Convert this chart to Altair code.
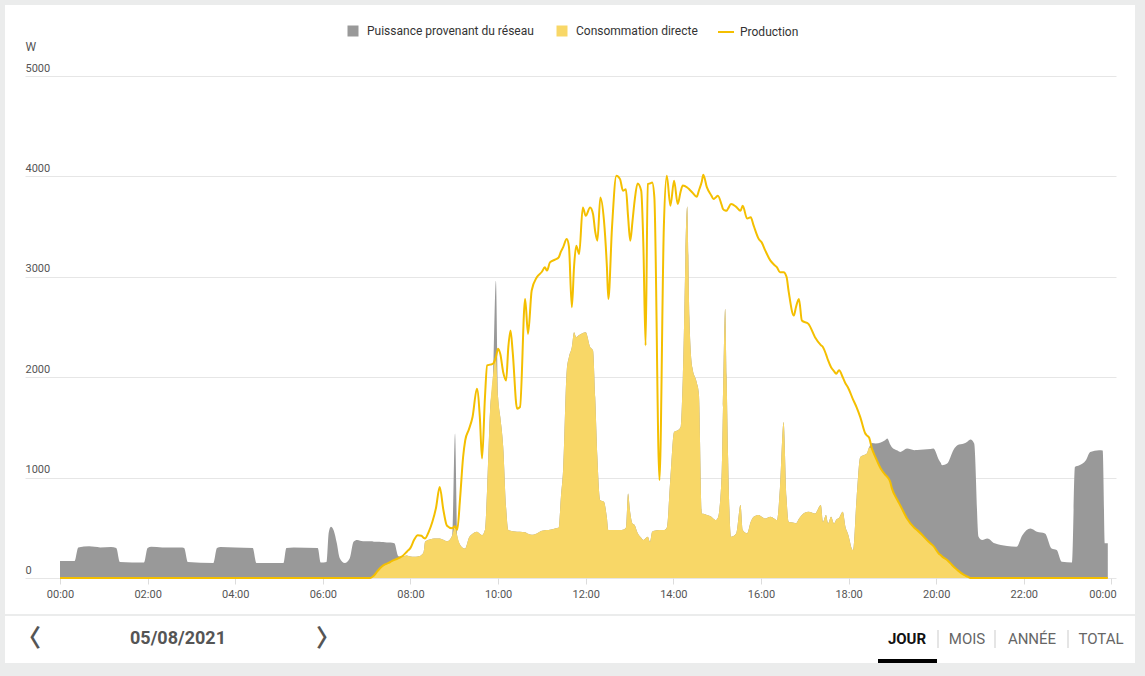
import altair as alt
import numpy as np
import pandas as pd

# ---------------- data ----------------
heures = [
    "00:00", "00:20", "00:25", "00:40", "00:55", "01:10", "01:17", "01:22", "01:55", "02:00",
    "02:05", "02:20", "02:45", "02:50", "02:55", "03:30", "03:35", "03:40", "04:00", "04:24",
    "04:29", "05:06", "05:10", "05:20", "05:53", "05:57", "06:05", "06:08", "06:11", "06:15",
    "06:19", "06:23", "06:30", "06:37", "06:42", "06:47", "06:55", "07:05", "07:10", "07:15",
    "07:20", "07:25", "07:30", "07:35", "07:38", "07:43", "07:47", "07:50", "07:55", "08:00",
    "08:05", "08:10", "08:15", "08:18", "08:20", "08:25", "08:30", "08:35", "08:40", "08:45",
    "08:50", "08:57", "09:01", "09:04", "09:08", "09:12", "09:15", "09:20", "09:25", "09:31",
    "09:35", "09:38", "09:42", "09:45", "09:49", "09:53", "09:57", "10:00", "10:03", "10:07",
    "10:11", "10:14", "10:17", "10:20", "10:26", "10:30", "10:37", "10:41", "10:46", "10:53",
    "11:00", "11:04", "11:07", "11:11", "11:18", "11:23", "11:26", "11:29", "11:34", "11:37",
    "11:41", "11:44", "11:47", "11:51", "11:56", "12:00", "12:06", "12:10", "12:13", "12:16",
    "12:20", "12:25", "12:29", "12:31", "12:36", "12:42", "12:47", "12:51", "12:55", "12:58",
    "13:01", "13:04", "13:07", "13:11", "13:16", "13:19", "13:22", "13:25", "13:28", "13:31",
    "13:34", "13:41", "13:47", "13:51", "13:56", "14:01", "14:06", "14:10", "14:13", "14:19",
    "14:22", "14:26", "14:32", "14:35", "14:39", "14:41", "14:46", "14:52", "14:55", "14:58",
    "15:01", "15:06", "15:08", "15:11", "15:13", "15:15", "15:19", "15:26", "15:32", "15:35",
    "15:41", "15:46", "15:50", "15:57", "16:01", "16:06", "16:13", "16:18", "16:22", "16:26",
    "16:31", "16:35", "16:38", "16:45", "16:48", "16:52", "16:56", "17:05", "17:14", "17:22",
    "17:25", "17:29", "17:32", "17:36", "17:40", "17:43", "17:47", "17:52", "17:56", "17:59",
    "18:06", "18:11", "18:16", "18:23", "18:25", "18:28", "18:32", "18:37", "18:44", "18:50",
    "18:53", "18:57", "18:59", "19:07", "19:11", "19:20", "19:30", "19:34", "19:52", "19:56",
    "20:04", "20:06", "20:08", "20:15", "20:24", "20:29", "20:38", "20:43", "20:47", "20:52",
    "20:58", "21:03", "21:10", "21:20", "21:37", "21:50", "21:58", "22:09", "22:18", "22:29",
    "22:38", "22:45", "22:52", "23:06", "23:10", "23:16", "23:25", "23:31", "23:43", "23:48",
    "23:51", "23:55",
]

# total consumption (top of the grey area), W
consommation = [
    170, 170, 305, 315, 305, 308, 300, 160, 155, 300,
    312, 305, 303, 300, 160, 150, 300, 310, 305, 300,
    150, 150, 300, 305, 300, 155, 160, 450, 510, 470,
    350, 200, 150, 200, 360, 378, 365, 365, 362, 360,
    358, 356, 353, 350, 345, 220, 210, 215, 225, 215,
    212, 215, 230, 260, 361, 380, 390, 394, 394, 380,
    365, 420, 1440, 420, 330, 300, 295, 400, 440, 461,
    440, 427, 480, 900, 1670, 2018, 2960, 1800, 1603, 1305,
    700, 477, 470, 465, 461, 460, 455, 440, 430, 444,
    470, 475, 477, 480, 494, 500, 808, 1074, 2067, 2200,
    2300, 2448, 2399, 2420, 2440, 2448, 2300, 2266, 1800, 1200,
    775, 759, 600, 477, 477, 477, 477, 480, 500, 842,
    650, 544, 527, 450, 400, 378, 395, 411, 361, 461,
    470, 477, 477, 500, 1000, 1455, 1471, 1504, 2000, 3700,
    2600, 2100, 1950, 1836, 643, 640, 627, 610, 590, 577,
    600, 1000, 1700, 2681, 2000, 1200, 411, 444, 726, 477,
    444, 560, 610, 627, 610, 593, 610, 593, 577, 900,
    1554, 800, 560, 550, 544, 590, 627, 660, 643, 726,
    560, 627, 544, 610, 544, 580, 600, 660, 500, 444,
    278, 800, 1206, 1230, 1239, 1300, 1345, 1339, 1350, 1372,
    1389, 1330, 1306, 1270, 1256, 1289, 1273, 1275, 1285, 1289,
    1173, 1150, 1123, 1140, 1280, 1322, 1339, 1360, 1379, 1339,
    411, 378, 394, 345, 318, 312, 427, 494, 461, 444,
    295, 278, 162, 155, 1106, 1123, 1173, 1256, 1272, 1270,
    345, 345,
]

# solar production (yellow line), W
production = [
    0, 0, 0, 0, 0, 0, 0, 0, 0, 0,
    0, 0, 0, 0, 0, 0, 0, 0, 0, 0,
    0, 0, 0, 0, 0, 0, 0, 0, 0, 0,
    0, 0, 0, 0, 0, 0, 0, 0, 25, 70,
    110, 135, 150, 170, 180, 195, 210, 225, 262, 300,
    380, 425, 420, 400, 394, 460, 560, 700, 907, 680,
    520, 495, 515, 480, 800, 1200, 1372, 1480, 1603, 1886,
    1600, 1190, 1800, 2117, 2125, 2134, 2200, 2283, 2230, 2050,
    1968, 2300, 2465, 2250, 1687, 1703, 2780, 2432, 2863, 2995,
    3050, 3094, 3062, 3144, 3170, 3194, 3250, 3293, 3376, 3300,
    2697, 3100, 3310, 3227, 3691, 3608, 3691, 3625, 3450, 3360,
    3790, 3559, 3100, 2780, 3492, 4006, 3973, 3857, 3873, 3600,
    3360, 3550, 3758, 3929, 3857, 3300, 2316, 3923, 3930, 3939,
    3790, 974, 3500, 4006, 3708, 3956, 3724, 3850, 3910, 3890,
    3870, 3840, 3797, 3860, 3950, 4016, 3890, 3810, 3774, 3790,
    3807, 3720, 3675, 3660, 3658, 3680, 3724, 3697, 3658, 3708,
    3580, 3592, 3509, 3376, 3343, 3260, 3161, 3120, 3094, 3045,
    3045, 3000, 2850, 2614, 2700, 2780, 2565, 2531, 2399, 2320,
    2299, 2230, 2167, 2100, 2060, 2035, 2070, 2000, 1935, 1900,
    1780, 1700, 1603, 1438, 1420, 1400, 1289, 1200, 1090, 1030,
    1007, 957, 900, 775, 720, 593, 500, 477, 345, 320,
    240, 229, 215, 180, 112, 80, 30, 13, 0, 0,
    0, 0, 0, 0, 0, 0, 0, 0, 0, 0,
    0, 0, 0, 0, 0, 0, 0, 0, 0, 0,
    0, 0,
]

series = ["Puissance provenant du réseau", "Consommation directe", "Production"]
ticks_y = [0, 1000, 2000, 3000, 4000, 5000]
ticks_x = list(range(0, 25, 2))
date_label = "05/08/2021"
periodes = ["JOUR", "MOIS", "ANNÉE", "TOTAL"]

# ---------------- tables ----------------
h = [int(s[:2]) + int(s[3:]) / 60 for s in heures]
cons = np.array(consommation, dtype=float)
prod = np.array(production, dtype=float)
directe = np.minimum(cons, prod)  # self-consumed part of production

df_grid = pd.DataFrame({"h": h, "v": cons, "serie": series[0]})
df_dir = pd.DataFrame({"h": h, "v": directe, "serie": series[1]})
df_prod = pd.DataFrame({"h": h, "v": prod, "serie": series[2]})

FONT = "Roboto"
GREY = "#999999"
YEL_FILL = "#f8d767"
YEL_LINE = "#f4bf00"
FRAME = "#ebecec"

x_enc = alt.X(
    "h:Q",
    scale=alt.Scale(domain=[-0.799, 24.104], nice=False, zero=False),
    axis=alt.Axis(
        values=ticks_x,
        labelExpr="(datum.value % 24 < 10 ? '0' : '') + (datum.value % 24) + ':00'",
        grid=False, domain=False, ticks=True, tickSize=6, tickColor="#dcdcdc",
        labelFont=FONT, labelFontSize=11, labelColor="#555555", labelPadding=4,
        labelFlush=False,
        labelOffset={"condition": {"test": "datum.value >= 24", "value": -9}, "value": 0},
        title=None,
    ),
)
y_enc = alt.Y(
    "v:Q",
    scale=alt.Scale(domain=[0, 5000], nice=False),
    axis=alt.Axis(
        values=ticks_y, format="d", grid=True, gridColor="#e6e6e6", domain=False, ticks=False,
        labelAlign="left", labelBaseline="bottom", labelPadding=0, labelOffset=-3,
        labelFont=FONT, labelFontSize=11, labelColor="#555555",
        title="W", titleAngle=0, titleAlign="left", titleBaseline="middle",
        titleX=0, titleY=-30, titleFont=FONT, titleFontSize=12,
        titleFontWeight="normal", titleColor="#555555",
    ),
)

area_legend = alt.Legend(
    orient="none", legendX=322, legendY=-51, direction="horizontal", title=None,
    labelFont=FONT, labelFontSize=12, labelColor="#333333", labelLimit=0,
    symbolType="square", symbolSize=121, symbolStrokeWidth=0, symbolOpacity=1,
    labelOffset=8, columnPadding=22, padding=0,
)
line_legend = alt.Legend(
    orient="none", legendX=692, legendY=-53, direction="horizontal", title=None,
    labelFont=FONT, labelFontSize=12, labelColor="#333333", labelLimit=0,
    symbolType="stroke", symbolSize=256, symbolStrokeWidth=2, labelOffset=5, padding=0,
)
color_scale = alt.Scale(domain=series[:2], range=[GREY, YEL_FILL])

grey_area = alt.Chart(df_grid).mark_area(interpolate="monotone", opacity=1).encode(
    x=x_enc, y=y_enc, color=alt.Color("serie:N", scale=color_scale, legend=area_legend)
)
yellow_area = alt.Chart(df_dir).mark_area(interpolate="monotone", opacity=1).encode(
    x=x_enc, y=y_enc, color=alt.Color("serie:N", scale=color_scale, legend=area_legend)
)
prod_line = alt.Chart(df_prod).mark_line(interpolate="monotone", strokeWidth=2).encode(
    x=x_enc, y=y_enc,
    stroke=alt.Stroke("serie:N", scale=alt.Scale(domain=[series[2]], range=[YEL_LINE]),
                      legend=line_legend),
)

# ---------------- page frame & navigation bar (decoration) ----------------
one = pd.DataFrame({"k": [0]})


def strip(x1, x2, y1, y2, color=FRAME):
    return alt.Chart(one).mark_rect(color=color).encode(
        x=alt.value(x1), x2=alt.value(x2), y=alt.value(y1), y2=alt.value(y2)
    )


def label(txt, x, y, size, color, weight="normal", font=FONT):
    return alt.Chart(one).mark_text(
        text=txt, font=font, fontSize=size, color=color, fontWeight=weight,
        align="center", baseline="middle",
    ).encode(x=alt.value(x), y=alt.value(y))


deco = [
    strip(-25, 1120, -76, -71),
    strip(-25, -20, -76, 600),
    strip(1110, 1120, -76, 600),
    strip(-25, 1120, 538, 540),
    strip(-25, 1120, 587, 600),
    label("〈", 4, 563, 24, "#555555", weight="bold", font="Noto Sans CJK SC"),
    label("〉", 303, 563, 24, "#555555", weight="bold", font="Noto Sans CJK SC"),
    label(date_label, 153, 563, 18, "#555555", weight="bold"),
    label(periodes[0], 882, 563, 15, "#111111", weight="bold"),
    label(periodes[1], 942, 563, 15, "#666666"),
    label(periodes[2], 1007, 563, 15, "#666666"),
    label(periodes[3], 1076, 563, 15, "#666666"),
    strip(912.5, 913.5, 554, 572, "#cccccc"),
    strip(969.5, 970.5, 554, 572, "#cccccc"),
    strip(1042.5, 1043.5, 554, 572, "#cccccc"),
    strip(853, 912, 583, 587, "#000000"),
]

chart = alt.layer(grey_area, yellow_area, prod_line, *deco).properties(
    width=1091, height=502,
    autosize=alt.AutoSizeParams(type="none"),
    padding={"left": 25, "top": 76, "right": 29, "bottom": 98},
    background="white",
).resolve_scale(color="shared").configure_view(stroke=None)

chart.save("out.html", embed_options={"renderer": "svg", "actions": False})
